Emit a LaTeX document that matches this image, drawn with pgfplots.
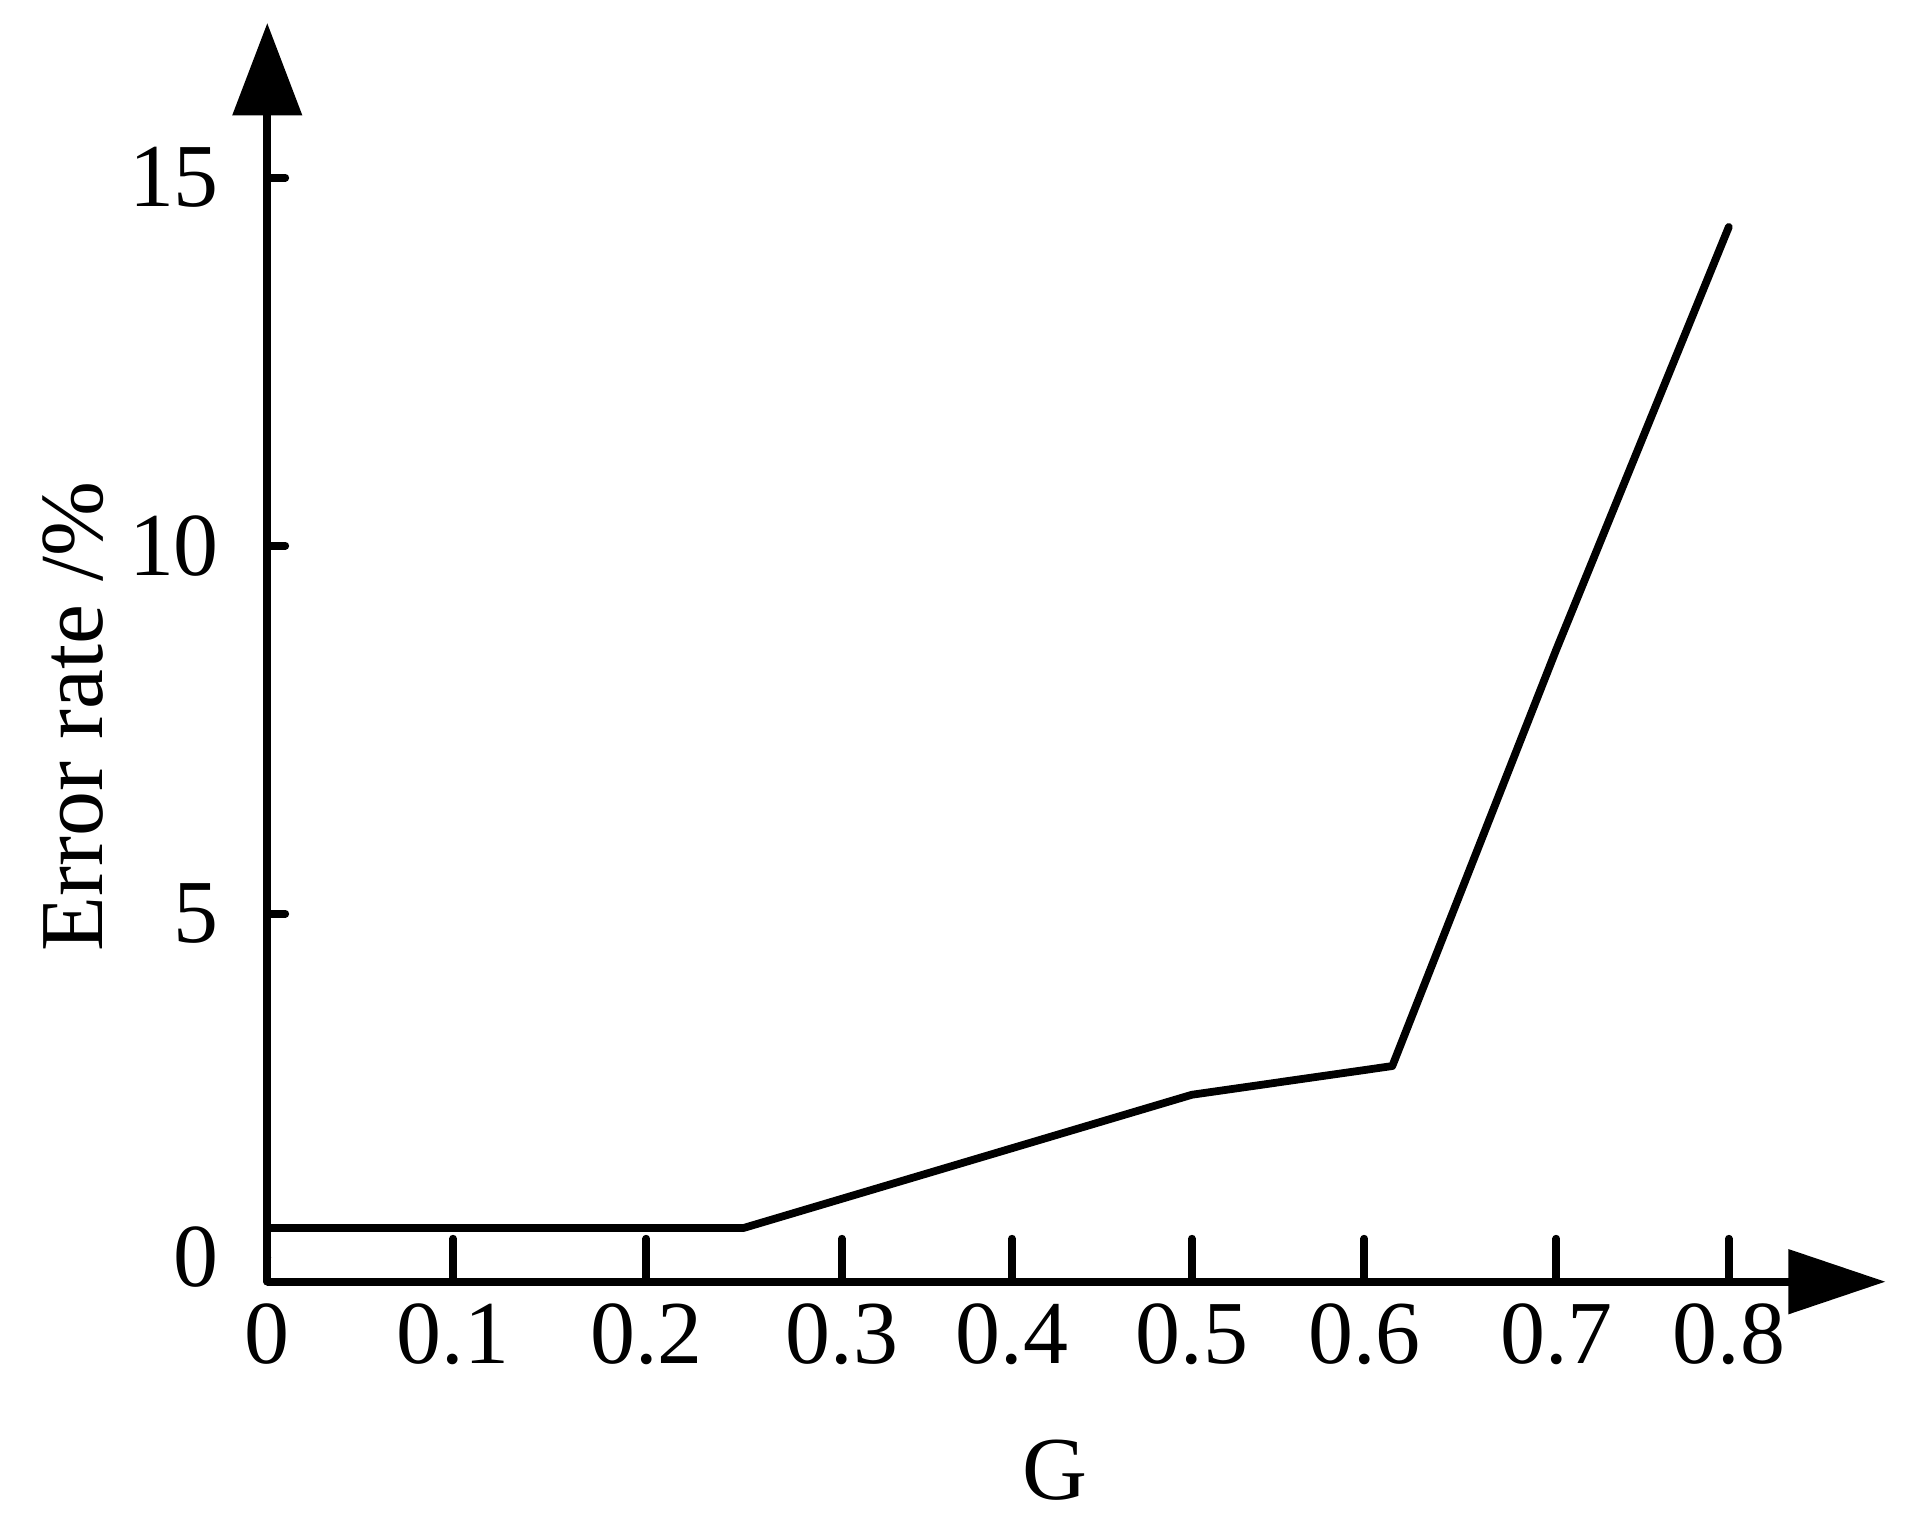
\documentclass[border=0pt]{standalone}
\usepackage{fontspec}
\setmainfont{Liberation Serif}
\usepackage{pgfplots}
\pgfplotsset{compat=1.18}
\usetikzlibrary{arrows.meta}

\begin{document}
\begin{tikzpicture}
\def\fs{\fontsize{18.5}{22}\selectfont}
\begin{axis}[
  at={(0,0)}, anchor=south west,
  scale only axis, width=333pt, height=259pt,
  xmin=0, xmax=0.8858, ymin=0, ymax=17.1,
  axis x line=bottom, axis y line=left,
  axis line style={line width=1.6pt},
  x axis line style={-{Triangle[length=20pt,width=13pt]}},
  y axis line style={-{Triangle[length=19pt,width=14pt]}},
  /pgf/number format/assume math mode=true,
  tick label style={font=\fs},
  label style={font=\fs},
  tick align=inside,
  major tick length=3.7pt,
  tick style={line width=1.6pt, line cap=round, black},
  xtick=\empty,
  extra x ticks={0,0.1017,0.2075,0.3145,0.4076,0.5061,0.6005,0.7056,0.8},
  extra x tick labels={0,0.1,0.2,0.3,0.4,0.5,0.6,0.7,0.8},
  extra x tick style={major tick length=8.85pt},
  xticklabel style={inner sep=0pt, yshift=-4.25pt},
  ytick={5,10,15},
  extra y ticks={0.33},
  extra y tick labels={0},
  extra y tick style={major tick length=0pt},
  yticklabel style={inner sep=0pt, xshift=-9.75pt},
  xlabel={G},
  xlabel style={at={(axis description cs:0.4865,0)}, anchor=center, yshift=-38.75pt},
  ylabel={Error rate /\%},
  ylabel style={at={(axis description cs:0,0.449)}, anchor=center, yshift=40pt},
  clip=false,
]
\addplot[black, line width=1.6pt, line join=round, line cap=round] coordinates {
  (0,0.73) (0.2607,0.73) (0.5061,2.54) (0.6158,2.93) (0.7056,8.59) (0.8,14.33)
};
\end{axis}
\path (-55pt,-51.5pt) rectangle (337pt,263.75pt);
\end{tikzpicture}
\end{document}
